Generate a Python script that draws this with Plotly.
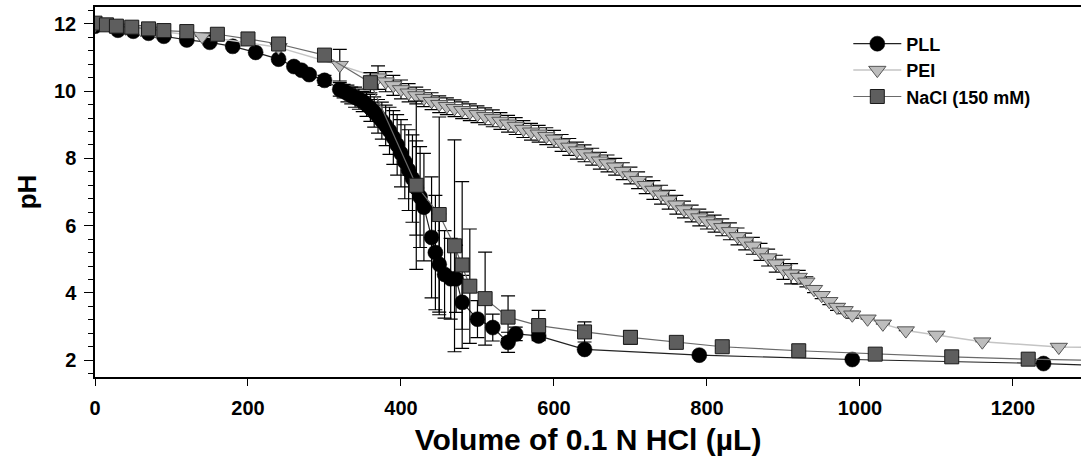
import plotly.graph_objects as go

# ---------------- data ----------------
pll_x = [0, 30, 50, 70, 90, 120, 150, 180, 210, 240, 260, 270, 280, 300,
         320, 325, 330, 335, 340, 345, 350, 355, 360, 365, 370, 375, 380, 385,
         390, 395, 400, 405, 410, 415, 420, 425, 430, 440, 445, 450, 457, 465,
         472, 480, 500, 520, 540, 550, 580, 640, 790, 990, 1240, 1340]
pll_y = [11.93, 11.81, 11.78, 11.72, 11.63, 11.52, 11.45, 11.33, 11.15, 10.95, 10.73, 10.62, 10.49, 10.32,
         10.05, 10.00, 9.93, 9.87, 9.82, 9.76, 9.69, 9.60, 9.50, 9.38, 9.25, 9.12, 8.98, 8.82,
         8.62, 8.40, 8.15, 7.90, 7.65, 7.40, 7.12, 6.85, 6.55, 5.65, 5.20, 4.85, 4.55, 4.42,
         4.42, 3.72, 3.22, 2.97, 2.53, 2.78, 2.72, 2.32, 2.15, 2.02, 1.90, 1.82]
pll_err = [0, 0, 0, 0, 0, 0, 0, 0, 0, 0, 0, 0, 0.1, 0.15,
           0.2, 0.2, 0.25, 0.25, 0.3, 0.3, 0.3, 0.35, 0.4, 0.45, 0.5, 0.55, 0.6, 0.7,
           0.8, 0.9, 1.0, 1.1, 1.2, 1.3, 1.4, 1.5, 1.6, 1.8, 1.7, 1.5, 1.3, 1.2,
           1.0, 0.8, 0.55, 0.4, 0.3, 0.2, 0.1, 0, 0, 0, 0, 0]

pei_x = [0, 20, 40, 60, 80, 140, 240, 320,
         370, 380, 390, 400, 410, 420, 430, 440, 450, 460, 470, 480, 490, 500,
         510, 520, 530, 540, 550, 560, 570, 580, 590, 600, 610, 620, 630, 640,
         650, 660, 670, 680, 690, 700, 710, 720, 730, 740, 750, 760, 770, 780,
         790, 800, 810, 820, 830, 840, 850, 860, 870, 880, 890, 900, 910, 920,
         930, 940, 950, 960, 970, 980, 990,
         1010, 1030, 1060, 1100, 1160, 1260, 1360]
pei_y = [11.97, 11.93, 11.88, 11.84, 11.79, 11.63, 11.30, 10.77,
         10.40, 10.28, 10.17, 10.05, 9.95, 9.87, 9.79, 9.70, 9.61, 9.55, 9.49, 9.43, 9.37, 9.31,
         9.25, 9.19, 9.11, 9.03, 8.96, 8.87, 8.79, 8.73, 8.66, 8.58, 8.46, 8.34, 8.23, 8.15,
         8.05, 7.93, 7.85, 7.75, 7.62, 7.49, 7.35, 7.20, 7.06, 6.92, 6.77, 6.62, 6.48, 6.36,
         6.24, 6.15, 6.06, 5.95, 5.83, 5.68, 5.53, 5.40, 5.22, 5.05, 4.87, 4.70, 4.57, 4.47,
         4.33, 4.11, 3.93, 3.75, 3.58, 3.48, 3.35,
         3.23, 3.08, 2.88, 2.75, 2.55, 2.39, 2.36]
pei_err = [0, 0, 0, 0, 0, 0, 0, 0.47,
           0.35, 0.3, 0.3, 0.28, 0.27, 0.25, 0.25, 0.25, 0.25, 0.25, 0.25, 0.25, 0.25, 0.25,
           0.25, 0.25, 0.25, 0.25, 0.25, 0.25, 0.25, 0.25, 0.25, 0.25, 0.25, 0.25, 0.25, 0.25,
           0.25, 0.25, 0.25, 0.25, 0.25, 0.25, 0.25, 0.25, 0.28, 0.28, 0.28, 0.28, 0.25, 0.25,
           0.25, 0.25, 0.25, 0.25, 0.25, 0.25, 0.25, 0.25, 0.25, 0.25, 0.25, 0.3, 0.3, 0.2,
           0.15, 0.1, 0.1, 0.1, 0.1, 0.1, 0.1,
           0, 0, 0, 0, 0, 0, 0]

nacl_x = [0, 15, 28, 48, 70, 90, 120, 160, 200, 240, 300, 360, 420, 450, 470,
          480, 490, 510, 540, 580, 640, 700, 760, 820, 920, 1020, 1120, 1220, 1320]
nacl_y = [12.02, 11.97, 11.93, 11.90, 11.85, 11.80, 11.77, 11.69, 11.55, 11.40, 11.07, 10.25, 7.20, 6.33, 5.40,
          4.83, 4.20, 3.83, 3.28, 3.03, 2.84, 2.68, 2.53, 2.40, 2.28, 2.18, 2.10, 2.03, 1.99]
nacl_err = [0, 0, 0, 0, 0, 0, 0, 0, 0, 0, 0, 0.3, 2.5, 2.9, 3.15,
            2.48, 1.7, 1.38, 0.63, 0.45, 0.3, 0.2, 0.1, 0.05, 0, 0, 0, 0, 0]

x_ticks = [0, 200, 400, 600, 800, 1000, 1200]
y_ticks = [2, 4, 6, 8, 10, 12]

FONT = "Liberation Sans, Arial, sans-serif"

fig = go.Figure()


def err(vals):
    return dict(type="data", array=vals, visible=True, color="black",
                thickness=1.2, width=7)


fig.add_trace(go.Scatter(
    x=pll_x, y=pll_y, name="PLL", mode="lines+markers",
    line=dict(color="#222222", width=1.2),
    marker=dict(symbol="circle", size=15, color="black",
                line=dict(color="black", width=0.5)),
    error_y=err(pll_err)))

fig.add_trace(go.Scatter(
    x=pei_x, y=pei_y, name="PEI", mode="lines+markers",
    line=dict(color="#c4c4c4", width=1.5),
    marker=dict(symbol="triangle-down", size=15, color="#bdbdbd",
                line=dict(color="#555555", width=1)),
    error_y=err(pei_err)))

fig.add_trace(go.Scatter(
    x=nacl_x, y=nacl_y, name="NaCl (150 mM)", mode="lines+markers",
    line=dict(color="#6a6a6a", width=1.2),
    marker=dict(symbol="square", size=14, color="#5e5e5e",
                line=dict(color="#1a1a1a", width=1)),
    error_y=err(nacl_err)))

fig.update_layout(
    width=1081, height=465,
    margin=dict(l=95, r=0, t=7, b=88),
    paper_bgcolor="white", plot_bgcolor="white",
    font=dict(family=FONT, color="black"),
    showlegend=True,
    legend=dict(x=0.764, y=0.95, xanchor="left", yanchor="top",
                bgcolor="rgba(0,0,0,0)", itemwidth=48,
                font=dict(family=FONT, size=18, weight="bold", color="black"),
                tracegroupgap=0),
)

fig.update_xaxes(
    range=[0, 1289], tickvals=x_ticks, ticktext=[str(v) for v in x_ticks],
    ticks="outside", ticklen=7, tickwidth=1.2, tickcolor="black",
    ticklabelstandoff=5,
    showline=True, linecolor="black", linewidth=1.5, mirror=True,
    showgrid=False, zeroline=False,
    tickfont=dict(family=FONT, size=20, weight="bold"),
    title=dict(text="Volume of 0.1 N HCl (µL)", standoff=11,
               font=dict(family=FONT, size=30, weight="bold")))

fig.update_yaxes(
    range=[1.5, 12.5], tickvals=y_ticks, ticktext=[str(v) for v in y_ticks],
    ticks="outside", ticklen=9, tickwidth=1.2, tickcolor="black",
    ticklabelstandoff=4,
    minor=dict(tick0=0, dtick=0.4, ticks="outside", ticklen=5,
               tickcolor="black", tickwidth=1),
    showline=True, linecolor="black", linewidth=1.5, mirror=False,
    showgrid=False, zeroline=False,
    tickfont=dict(family=FONT, size=20, weight="bold"),
    title=dict(text="pH", standoff=10,
               font=dict(family=FONT, size=26, weight="bold")))

fig.write_html("out.html")
